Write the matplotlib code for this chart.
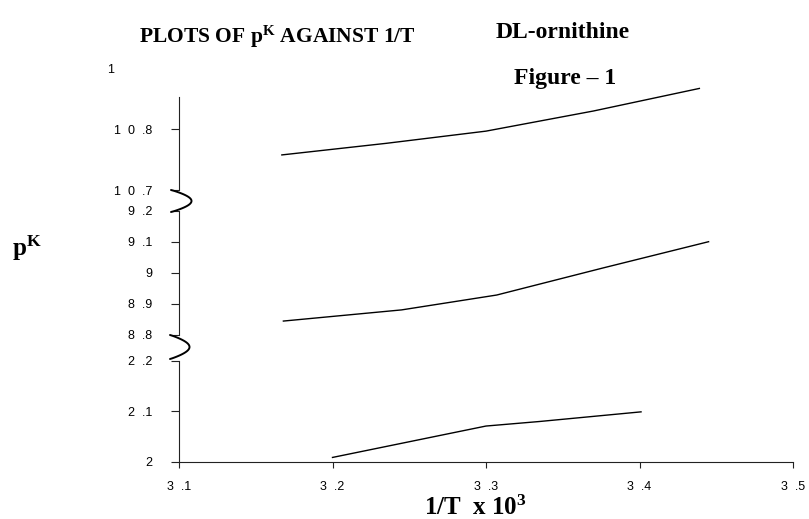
import numpy as np
import matplotlib
matplotlib.use("Agg")
import matplotlib.pyplot as plt
from matplotlib.lines import Line2D

plt.rcParams["mathtext.default"] = "regular"

# ---------------- data ----------------
x_ticks = [3.1, 3.2, 3.3, 3.4, 3.5]
x_ticklabels = ["3  .1", "3  .2", "3  .3", "3  .4", "3  .5"]

top_ticks = [10.7, 10.8]
top_ticklabels = ["1  0  .7", "1  0  .8"]
mid_ticks = [8.8, 8.9, 9.0, 9.1, 9.2]
mid_ticklabels = ["8  .8", "8  .9", "9", "9  .1", "9  .2"]
bot_ticks = [2.0, 2.1, 2.2]
bot_ticklabels = ["2", "2  .1", "2  .2"]

# pK3 (upper curve)
top_x = [3.167, 3.235, 3.300, 3.370, 3.439]
top_y = [10.758, 10.777, 10.797, 10.830, 10.867]
# pK2 (middle curve)
mid_x = [3.168, 3.245, 3.307, 3.376, 3.445]
mid_y = [8.844, 8.880, 8.928, 9.015, 9.100]
# pK1 (lower curve)
bot_x = [3.200, 3.250, 3.300, 3.335, 3.401]
bot_y = [2.009, 2.040, 2.071, 2.080, 2.099]

# ---------------- figure ----------------
W, H = 809, 519
fig = plt.figure(figsize=(W / 100, H / 100), dpi=100)

LEFT, RIGHT = 179, 793


def add_ax(top_px, bot_px):
    return fig.add_axes([LEFT / W, 1 - bot_px / H, (RIGHT - LEFT) / W, (bot_px - top_px) / H])


ax_top = add_ax(97, 190.3)
ax_mid = add_ax(210.7, 334.7)
ax_bot = add_ax(360.7, 462)

tick_font = dict(family="Liberation Sans", size=9)

for ax, ticks, labels, lim, (xs, ys) in [
    (ax_top, top_ticks, top_ticklabels, (10.7, 10.7 + (190.3 - 97) / 610), (top_x, top_y)),
    (ax_mid, mid_ticks, mid_ticklabels, (8.8, 9.2), (mid_x, mid_y)),
    (ax_bot, bot_ticks, bot_ticklabels, (2.0, 2.2), (bot_x, bot_y)),
]:
    ax.set_xlim(3.1, 3.5)
    ax.set_ylim(*lim)
    ax.patch.set_alpha(0)
    ax.plot(xs, ys, color="black", lw=1.0, clip_on=False)
    for s in ("top", "right"):
        ax.spines[s].set_visible(False)
    ax.spines["left"].set_linewidth(0.8)
    ax.spines["left"].set_color("#222222")
    ax.set_yticks(ticks)
    ax.set_yticklabels(labels, fontdict=tick_font)
    ax.tick_params(axis="y", direction="out", length=5.8, width=0.8, pad=13.5,
                   color="#222222", labelcolor="black")
    if ax is not ax_bot:
        ax.spines["bottom"].set_visible(False)
        ax.set_xticks([])

ax_bot.spines["bottom"].set_linewidth(0.8)
ax_bot.spines["bottom"].set_color("#222222")
ax_bot.set_xticks(x_ticks)
ax_bot.set_xticklabels(x_ticklabels, fontdict=tick_font)
ax_bot.tick_params(axis="x", direction="out", length=4.1, width=0.8, pad=9.5,
                   color="#222222", labelcolor="black")


# ---------------- axis-break squiggles ----------------
def px(x, y):
    return (x / W, 1 - y / H)


def squiggle(x0, y0, y1, amp):
    t = np.linspace(0, 1, 60)
    xs = x0 + amp * np.sin(np.pi * t) ** 0.9 - 2.0 * np.sin(2 * np.pi * t) * 0
    ys = y0 + (y1 - y0) * t
    fx = xs / W
    fy = 1 - ys / H
    fig.add_artist(Line2D(fx, fy, lw=1.4, color="black", transform=fig.transFigure,
                          solid_capstyle="round"))


squiggle(171, 190, 212, 20.5)
squiggle(170, 335, 359, 19.5)

# ---------------- texts ----------------
serif_b = dict(family="Liberation Serif", weight="bold", color="black")

fig.text(*px(277, 43), "PLOTS OF p$^{K}$ AGAINST 1/T", ha="center", va="baseline",
         fontsize=15.5, **serif_b)
fig.text(*px(563, 38), "DL-ornithine", ha="center", va="baseline", fontsize=17, **serif_b)
fig.text(*px(565, 84), "Figure \u2013 1", ha="center", va="baseline", fontsize=17, **serif_b)
fig.text(*px(475, 515), "1/T  x 10$^{3}$", ha="center", va="baseline", fontsize=18, **serif_b)
fig.text(*px(12, 256), "p$^{K}$", ha="left", va="baseline", fontsize=18, **serif_b)
fig.text(*px(107, 70), "1", ha="left", va="center", **tick_font)

fig.savefig("out.png", dpi=100)
